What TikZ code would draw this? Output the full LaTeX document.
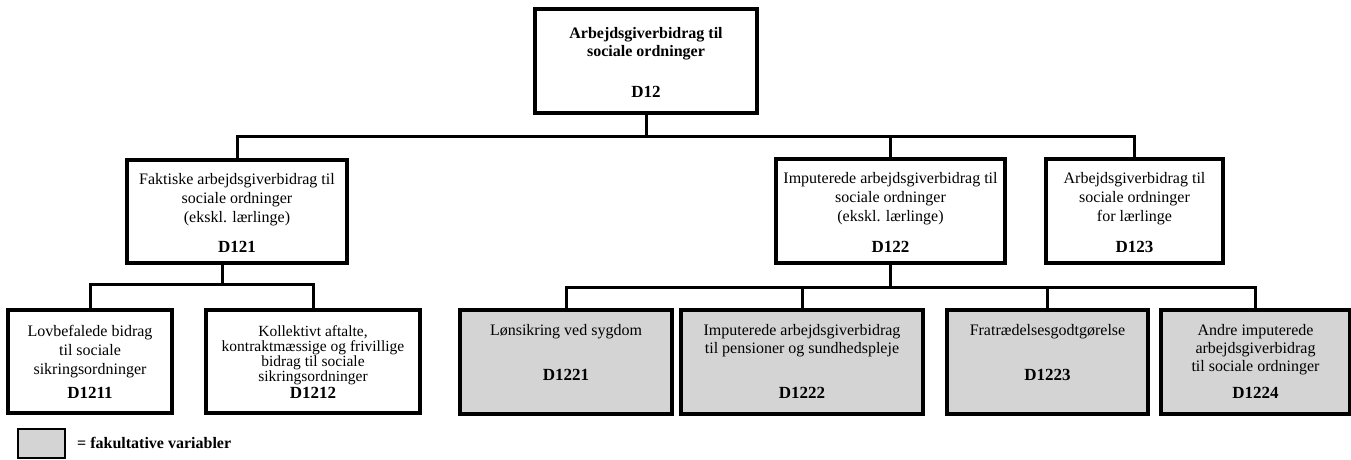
\documentclass[tikz,border=0pt]{standalone}
\usepackage{fontspec}
\setmainfont{Liberation Serif}
\begin{document}
\begin{tikzpicture}[x=1pt,y=-1pt,
  box/.style={draw, line width=3.4pt, inner sep=0pt, fill=white},
  optbox/.style={box, fill=black!17},
  txt/.style={align=center, inner sep=0pt, font=\fontsize{16}{19}\selectfont},
  code/.style={inner sep=0pt, font=\fontsize{17}{20}\selectfont\bfseries},
  conn/.style={line width=3pt, line join=miter}]
\useasboundingbox (0,0) rectangle (1351,460);

% boxes
\node[box, line width=4.2pt, minimum width=222pt, minimum height=104pt] (d12) at (646,61) {};
\node[box, minimum width=220pt, minimum height=103pt] (d121) at (237,211.5) {};
\node[box, minimum width=229pt, minimum height=104pt] (d122) at (890.5,211) {};
\node[box, minimum width=177pt, minimum height=104pt] (d123) at (1134.5,211) {};
\node[box, minimum width=164pt, minimum height=103pt] (d1211) at (90,361.5) {};
\node[box, minimum width=214pt, minimum height=103pt] (d1212) at (313,361.5) {};
\node[optbox, minimum width=212pt, minimum height=104pt] (d1221) at (566,362) {};
\node[optbox, minimum width=242pt, minimum height=104pt] (d1222) at (802,362) {};
\node[optbox, minimum width=201pt, minimum height=104pt] (d1223) at (1047.5,362) {};
\node[optbox, minimum width=189pt, minimum height=104pt] (d1224) at (1255.5,362) {};

% bus junctions
\coordinate (b1) at (646,136);
\coordinate (b2) at (222,284);
\coordinate (b3) at (890.5,287);

% connectors
\draw[conn] (d12.south) -- (b1);
\draw[conn] (d121.north) |- (d123.north |- b1) -- (d123.north);
\draw[conn] (d122.north) -- (d122.north |- b1);
\draw[conn] (d121.south -| b2) -- (b2);
\draw[conn] (d1211.north) |- (b2) -| (d1212.north);
\draw[conn] (d122.south) -- (b3);
\draw[conn] (d1221.north) |- (b3) -| (d1224.north);
\draw[conn] (d1222.north) -- (d1222.north |- b3);
\draw[conn] (d1223.north) -- (d1223.north |- b3);

% texts
\node[txt, font=\fontsize{16}{18}\selectfont\bfseries] (t12) at (646,44) {Arbejdsgiverbidrag til\\sociale ordninger};
\node[code] (c12) at (646,92) {D12};

\node[txt] (t121) at (237,200) {Faktiske arbejdsgiverbidrag til\\sociale ordninger\\(ekskl. lærlinge)};
\node[code] (c121) at (237,247) {D121};

\node[txt] (t122) at (890.5,199) {Imputerede arbejdsgiverbidrag til\\sociale ordninger\\(ekskl. lærlinge)};
\node[code] (c122) at (890.5,247) {D122};

\node[txt] (t123) at (1134.5,199) {Arbejdsgiverbidrag til\\sociale ordninger\\for lærlinge};
\node[code] (c123) at (1134.5,247) {D123};

\node[txt] (t1211) at (90,352) {Lovbefalede bidrag\\til sociale\\sikringsordninger};
\node[code] (c1211) at (90,393) {D1211};

\node[txt, font=\fontsize{15.5}{15}\selectfont] (t1212) at (313,355) {Kollektivt aftalte,\\kontraktmæssige og frivillige\\bidrag til sociale\\sikringsordninger};
\node[code] (c1212) at (313,393) {D1212};

\node[txt] (t1221) at (566,332) {Lønsikring ved sygdom};
\node[code] (c1221) at (566,375) {D1221};

\node[txt, font=\fontsize{16}{18}\selectfont] (t1222) at (802,341) {Imputerede arbejdsgiverbidrag\\til pensioner og sundhedspleje};
\node[code] (c1222) at (802,393) {D1222};

\node[txt] (t1223) at (1047.5,332) {Fratrædelsesgodtgørelse};
\node[code] (c1223) at (1047.5,375) {D1223};

\node[txt, font=\fontsize{16}{18}\selectfont] (t1224) at (1255.5,350) {Andre imputerede\\arbejdsgiverbidrag\\til sociale ordninger};
\node[code] (c1224) at (1255.5,393) {D1224};

% legend
\node[draw, line width=2pt, fill=black!17, minimum width=47pt, minimum height=29pt, inner sep=0pt] (leg) at (41.5,443.5) {};
\node[anchor=west, inner sep=0pt, font=\fontsize{16}{19}\selectfont\bfseries] (legt) at (77,443) {= fakultative variabler};
\end{tikzpicture}
\end{document}
